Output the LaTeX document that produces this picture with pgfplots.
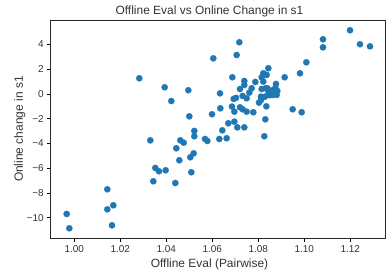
\documentclass[border=0pt]{standalone}
\usepackage{pgfplots}
\pgfplotsset{compat=1.18}
\usepackage{fontspec}
\setmainfont{Liberation Sans}
\definecolor{mplblue}{HTML}{1F77B4}
\definecolor{txt}{HTML}{333333}
\begin{document}
\begin{tikzpicture}
\begin{axis}[
  scale only axis,
  width=335bp, height=218.3bp,
  xmin=0.98973, xmax=1.13538,
  ymin=-11.67, ymax=5.98,
  xtick={1.00,1.02,1.04,1.06,1.08,1.10,1.12},
  xticklabels={1.00,1.02,1.04,1.06,1.08,1.10,1.12},
  ytick={-10,-8,-6,-4,-2,0,2,4},
  yticklabels={−10,−8,−6,−4,−2,0,2,4},
  tick align=outside,
  xtick pos=bottom, ytick pos=left,
  major tick length=3.5bp,
  every tick/.style={black, line width=0.6pt},
  axis line style={line width=0.6pt, black!85},
  ticklabel style={font=\fontsize{10}{12}\selectfont, text=txt},
  /pgf/number format/assume math mode=true,
  title={Offline Eval vs Online Change in s1},
  title style={font=\fontsize{12}{14}\selectfont, text=txt, at={(axis description cs:0.474,1)}, anchor=base, yshift=-0.5bp},
  xlabel={Offline Eval (Pairwise)},
  ylabel={Online change in s1},
  label style={font=\fontsize{12}{14}\selectfont, text=txt},
  xlabel style={at={(axis description cs:0.474,-0.118)}, anchor=center},
  ylabel style={at={(axis description cs:-0.0925,0.5)}, anchor=center},
]
\addplot[mplblue, only marks, mark=*, mark size=3.2bp, mark options={fill=mplblue, draw=mplblue, line width=0.1pt}] table {
x y
0.99667 -9.70
0.99783 -10.86
1.01435 -7.71
1.01435 -9.33
1.01696 -9.00
1.01638 -10.62
1.02826 1.27
1.03304 -3.75
1.03522 -5.98
1.03681 -6.25
1.03435 -7.06
1.03971 -6.17
1.03928 0.54
1.04217 -0.57
1.04391 -7.20
1.04435 -4.39
1.04565 -5.36
1.04609 -3.75
1.04754 -3.94
1.04957 0.30
1.05000 -1.81
1.05043 -5.12
1.05087 -6.33
1.05188 -4.80
1.05217 -2.99
1.05217 -3.42
1.05681 -3.64
1.05783 -3.80
1.05986 -1.64
1.06043 2.88
1.06304 -3.64
1.06333 0.05
1.06348 -1.16
1.06435 -2.94
1.06623 -3.58
1.06696 -2.37
1.06870 1.35
1.06855 -1.02
1.06957 -2.24
1.06957 -1.43
1.07058 3.15
1.07174 4.18
1.07087 -2.70
1.07391 -2.70
1.06928 -0.40
1.07029 -0.32
1.07203 0.40
1.07391 1.05
1.07391 0.73
1.07493 -0.35
1.07319 -0.16
1.07203 -1.08
1.07319 -1.24
1.07493 -1.43
1.07783 -1.48
1.07609 0.11
1.07710 0.46
1.07870 0.97
1.08029 -0.70
1.08116 -0.49
1.08116 -0.22
1.08145 0.40
1.08145 1.35
1.08217 1.67
1.08362 1.54
1.08435 2.08
1.08217 1.00
1.08319 0.46
1.08290 -0.22
1.08435 0.19
1.08580 0.27
1.08681 0.05
1.08768 0.81
1.08826 0.24
1.08797 -0.08
1.08623 -0.08
1.08500 -0.10
1.08740 0.50
1.08400 0.45
1.09145 1.35
1.08348 -1.00
1.08304 -2.05
1.08261 -3.42
1.09493 -1.24
1.09812 1.67
1.09884 -1.48
1.10087 2.56
1.10812 4.42
1.10812 3.77
1.11986 5.15
1.12420 4.02
1.12855 3.85
};
\end{axis}
\pgfresetboundingbox
\path[use as bounding box] (current axis.south west) ++(-50.7bp,-40.7bp) rectangle ++(391bp,279bp);
\end{tikzpicture}
\end{document}
